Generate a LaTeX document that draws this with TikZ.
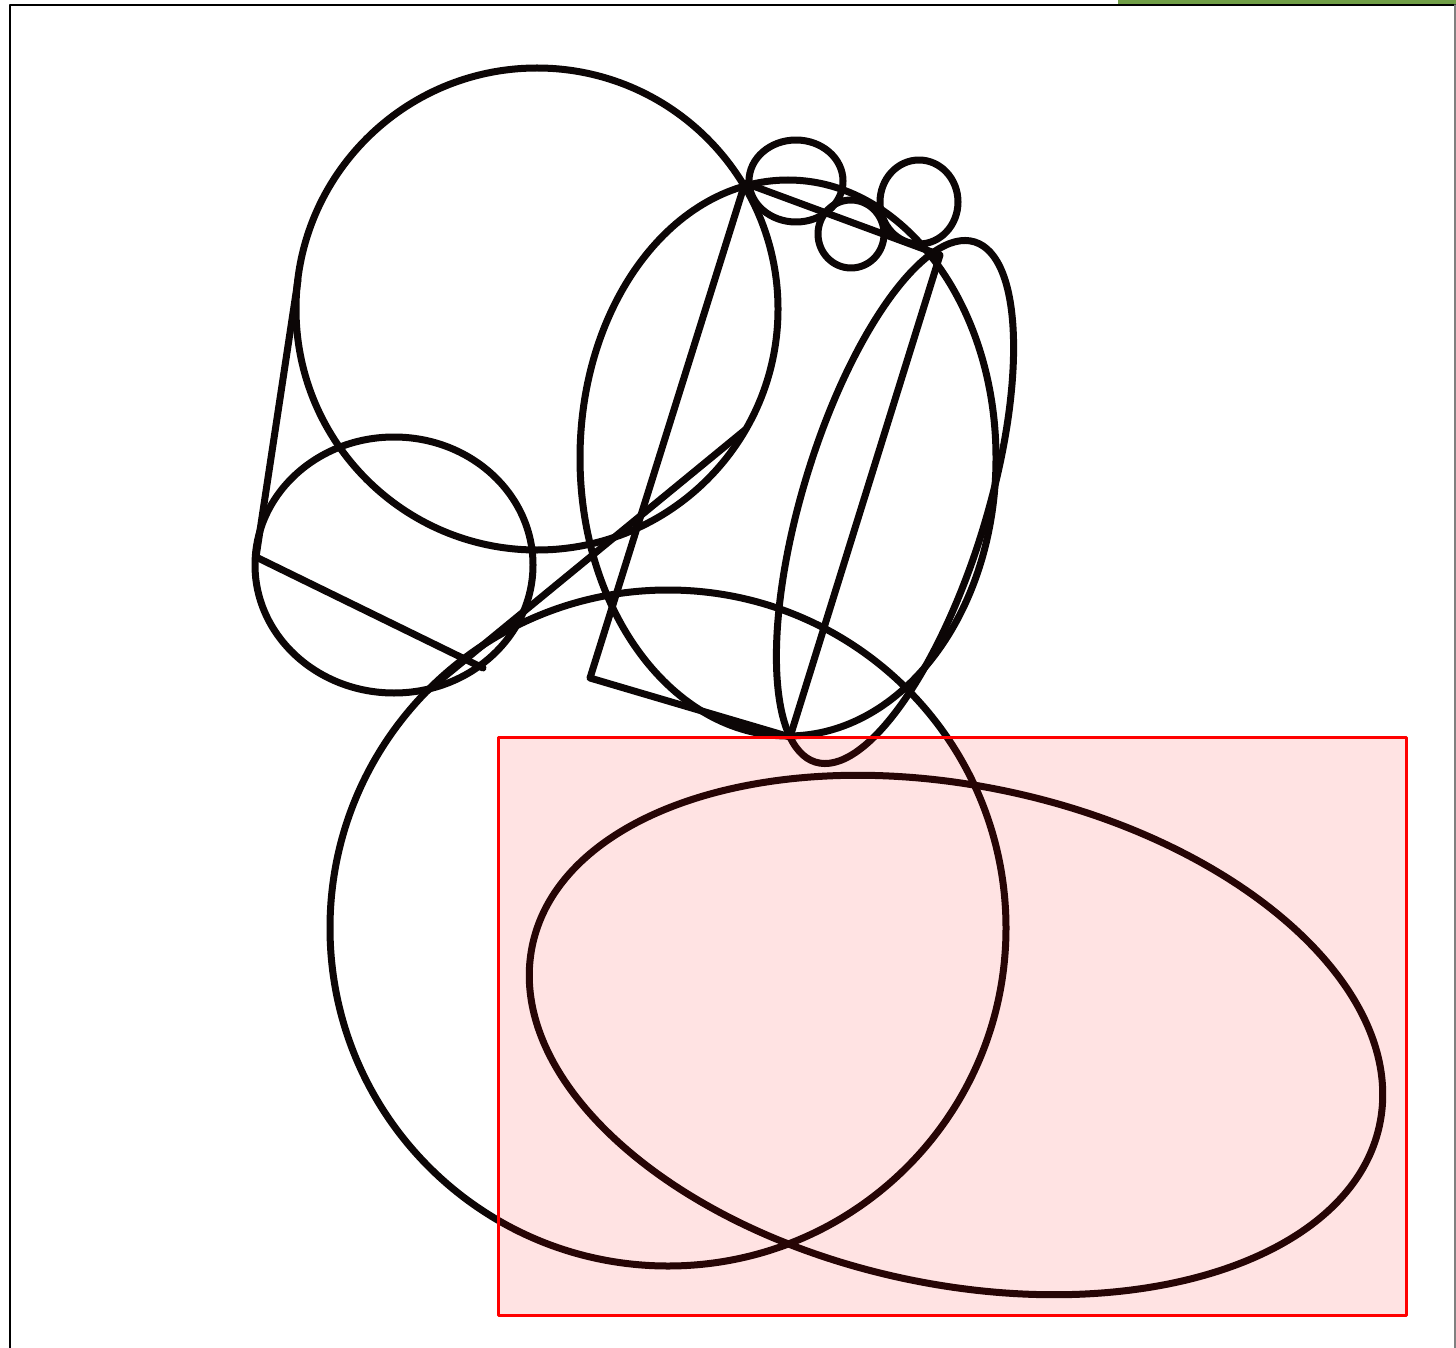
\documentclass[tikz,border=0pt]{standalone}
\definecolor{ink}{RGB}{12,6,6}
\definecolor{barGreen}{RGB}{112,158,70}
\begin{document}
\begin{tikzpicture}[x=1pt,y=-1pt, line join=round, line cap=round,
  sk/.style={draw=ink, line width=7pt},
  frameline/.style={draw=black, line width=2pt},
  hilite/.style={draw=red, line width=3pt, fill=red, fill opacity=0.11}]
\useasboundingbox (0,0) rectangle (1456,1348);
\fill[white] (0,0) rectangle (1456,1348);
% page frame and green bar
\fill[barGreen] (1118,0) rectangle (1456,4);
\coordinate (fBL) at (10,1348);
\coordinate (fTL) at (10,5);
\coordinate (fTR) at (1456,5);
\coordinate (fR1) at (1455,5);
\coordinate (fR2) at (1455,1348);
\draw[frameline] (fBL) -- (fTL) -- (fTR);
\draw[gray, line width=1.5pt] (fR1) -- (fR2);

% circles and ellipses
\draw[sk] (537,309) circle [radius=241];
\draw[sk] (394,565) ellipse [x radius=139, y radius=128];
\draw[sk] (788,458) ellipse [x radius=208, y radius=278];
\draw[sk, rotate around={73:(895,502)}] (895,502) ellipse [x radius=272, y radius=92];
\draw[sk] (668,928) circle [radius=338];
\draw[sk, rotate around={-12:(956,1035)}] (956,1035) ellipse [x radius=433, y radius=249];
\draw[sk] (796,181) ellipse [x radius=47, y radius=41];
\draw[sk] (919,202) ellipse [x radius=39, y radius=42];
\draw[sk] (851,234) ellipse [x radius=33, y radius=34];

% right parallelogram
\coordinate (p1) at (745,183);
\coordinate (p2) at (940,255);
\coordinate (p3) at (790,737);
\coordinate (p4) at (590,678);
\draw[sk] (p1) -- (p2) -- (p3) -- (p4) -- cycle;

% left open polyline
\coordinate (q1) at (298,280);
\coordinate (q2) at (256,557);
\coordinate (q3) at (483,668);
\draw[sk] (q1) -- (q2) -- (q3);

% long line
\coordinate (r1) at (745,430);
\coordinate (r2) at (427,691);
\draw[sk] (r1) -- (r2);

% highlight rectangle
\coordinate (h1) at (498,737);
\coordinate (h2) at (1406,1315);
\draw[hilite] (h1) rectangle (h2);
\end{tikzpicture}
\end{document}
